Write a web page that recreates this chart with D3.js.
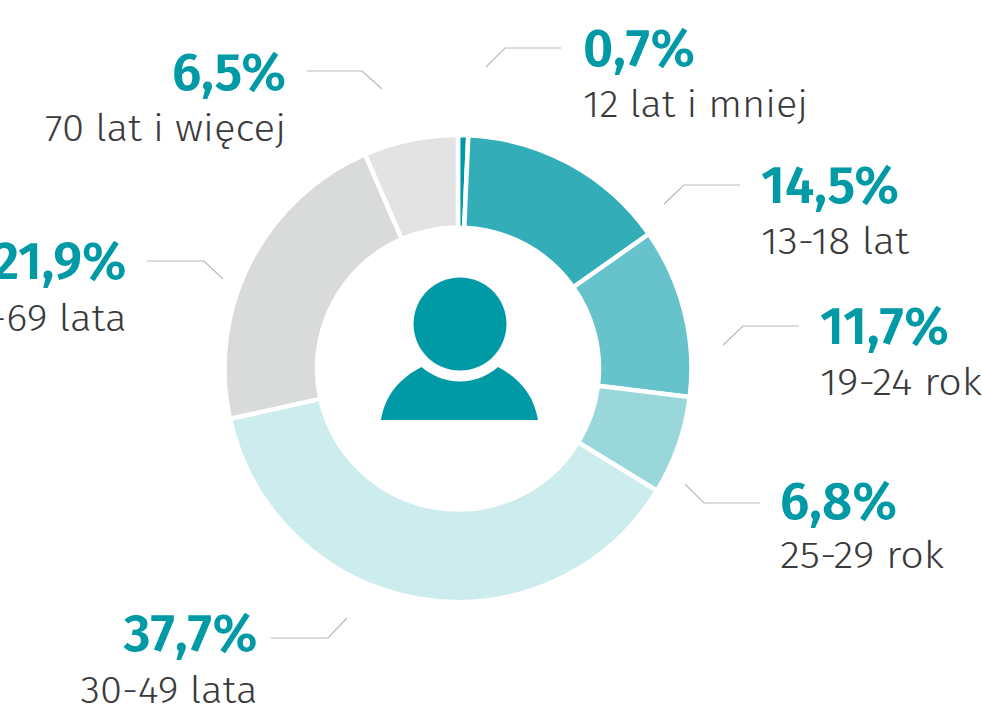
<!DOCTYPE html>
<html><head><meta charset="utf-8">
<script src="https://cdn.jsdelivr.net/npm/d3@7/dist/d3.min.js"></script>
<style>html,body{margin:0;padding:0;background:#fff;overflow:hidden}svg{display:block}</style>
</head><body><svg id="c" width="982" height="717"></svg>
<script>
const categories=["12 lat i mniej","13-18 lat","19-24 rok","25-29 rok","30-49 lata","50-69 lata","70 lat i więcej"];
const values=[0.7,14.5,11.7,6.8,37.7,21.9,6.5];
const colors=["#009aa6","#33adb8","#66c2cb","#99d7db","#cceced","#d9dbdb","#e3e3e3"];
// annotation layout (offset of the text block and leader polyline)
const labelAnchor=["start","start","start","start","end","end","end"];
const labelX=[583,761,820,780,257.5,126.5,286];
const labelY=[66,203,344,519,651,279,90];
const subDy=[51,51,51,49,52,52,51];
const pctW=[112,138,129,117,134,134,114];
const subW=[225,148,162,164,177,178,241];
const leaders=[
 [[486,67],[505,48],[561,48]],
 [[664,204],[684,185],[740,185]],
 [[723,345],[743,326],[799,326]],
 [[685,484],[704,503],[760,503]],
 [[347,618],[328,638],[271,638]],
 [[147,261],[204,261],[223,279]],
 [[307,71],[362,71],[382,89]]];
const svg=d3.select("#c");
const cx=458,cy=368.5,R=233.5,r=141;
const pie=d3.pie().sort(null).value(d=>d);
const arc=d3.arc().innerRadius(r).outerRadius(R);
const g=svg.append("g").attr("transform",`translate(${cx},${cy})`);
g.selectAll("path").data(pie(values)).join("path")
 .attr("d",arc).attr("fill",(d,i)=>colors[i]).attr("stroke","#fff").attr("stroke-width",4.5);
const line=d3.line();
svg.selectAll("path.l").data(leaders).join("path").attr("class","l")
 .attr("d",line).attr("fill","none").attr("stroke","#b9b9b9").attr("stroke-width",1.2);
const fam="'Fira Sans','Noto Sans','Open Sans',sans-serif";
const T=svg.selectAll("g.t").data(values).join("g").attr("class","t");
T.append("text").attr("x",(d,i)=>labelX[i]).attr("y",(d,i)=>labelY[i]).attr("text-anchor",(d,i)=>labelAnchor[i])
 .attr("font-family",fam).attr("font-weight",600).attr("font-size",53).attr("fill","#009aa6")
 .attr("textLength",(d,i)=>pctW[i]).attr("lengthAdjust","spacingAndGlyphs")
 .text(d=>String(d.toFixed(1)).replace(".",",")+"%");
T.append("text").attr("x",(d,i)=>labelX[i]).attr("y",(d,i)=>labelY[i]+subDy[i]).attr("text-anchor",(d,i)=>labelAnchor[i])
 .attr("font-family",fam).attr("font-weight",300).attr("font-size",37).attr("fill","#3a3a3a")
 .attr("textLength",(d,i)=>subW[i]).attr("lengthAdjust","spacingAndGlyphs")
 .text((d,i)=>categories[i]);
// person icon
const ic=svg.append("g").attr("fill","#009aa6");
ic.append("circle").attr("cx",460).attr("cy",324).attr("r",46.5);
ic.append("path").attr("d","M381,420 C385,395 400,378 421.5,367 C432,376 446,381.5 460,381.5 C474,381.5 488,376 498,367 C519,378 534,395 538,420 Z");
</script></body></html>
